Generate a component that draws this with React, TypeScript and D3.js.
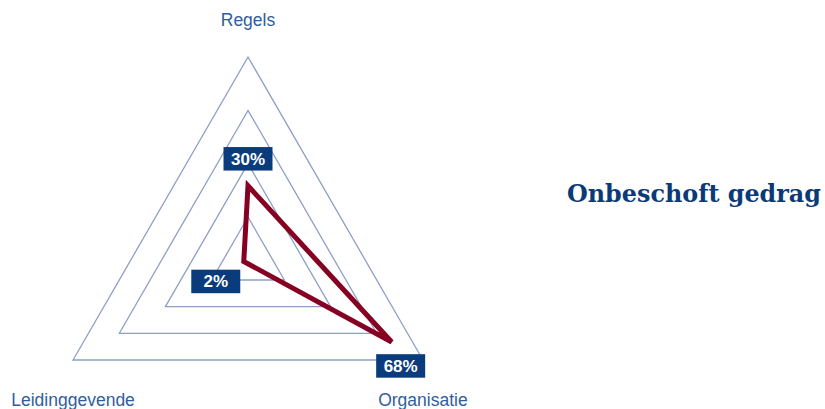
import React from 'react';
import * as d3 from 'd3';

// ---- data ----
const axes = ['Regels', 'Organisatie', 'Leidinggevende'];
const values = [30, 68, 2];
const valueLabels = ['30%', '68%', '2%'];
const gridLevels = [17.2, 39.1, 60.9, 82.8];
const maxValue = 82.8;
const title = 'Onbeschoft gedrag';

// ---- layout (not data) ----
const W = 825;
const H = 409;
const CX = 248;
const CY = 259;
const RADIUS = 202;
const labelOffsets: [number, number][] = [
  [0, -27],
  [9, 24],
  [-28, 20],
];
const axisLabelOffsets: [number, number][] = [
  [0, -31.5],
  [0, 46],
  [0, 46],
];

const GRID = '#8d9fc9';
const RED = '#860022';
const BOX = '#0a3b7c';
const TXT = '#2f5e9e';
const TITLE = '#0c3a78';

export default function App() {
  const r = d3.scaleLinear().domain([0, maxValue]).range([0, RADIUS]);
  const ang = (i: number) => (i * 2 * Math.PI) / axes.length;
  const pt = (i: number, v: number): [number, number] => [
    CX + Math.sin(ang(i)) * r(v),
    CY - Math.cos(ang(i)) * r(v),
  ];

  const radial = d3
    .lineRadial<number>()
    .angle((_, i) => ang(i))
    .radius((d) => r(d))
    .curve(d3.curveLinearClosed);

  return (
    <div style={{ position: 'absolute', left: 0, top: 0 }}>
      <svg width={W} height={H} style={{ display: 'block' }}>
        <rect width={W} height={H} fill="#fff" />
        <g transform={`translate(${CX},${CY})`}>
          {gridLevels.map((lv, k) => (
            <path
              key={k}
              d={radial(axes.map(() => lv)) || ''}
              fill="none"
              stroke={GRID}
              strokeWidth={1.3}
            />
          ))}
          <path
            d={radial(values) || ''}
            fill="none"
            stroke={RED}
            strokeWidth={5}
            strokeLinejoin="miter"
          />
        </g>
        {values.map((v, i) => {
          const [x, y] = pt(i, v);
          const bx = x + labelOffsets[i][0];
          const by = y + labelOffsets[i][1];
          return (
            <g key={i}>
              <rect x={bx - 24.5} y={by - 11.75} width={49} height={23.5} fill={BOX} />
              <text
                x={bx}
                y={by + 6}
                textAnchor="middle"
                fill="#fff"
                fontFamily="'Liberation Sans', Arial, sans-serif"
                fontWeight="bold"
                fontSize={17}
              >
                {valueLabels[i]}
              </text>
            </g>
          );
        })}
        {axes.map((a, i) => {
          const [x, y] = pt(i, maxValue);
          return (
            <text
              key={a}
              x={x + axisLabelOffsets[i][0]}
              y={y + axisLabelOffsets[i][1]}
              textAnchor="middle"
              fill={TXT}
              fontFamily="'Liberation Sans', Arial, sans-serif"
              fontSize={17.5}
            >
              {a}
            </text>
          );
        })}
        <text
          x={567}
          y={201.5}
          fill={TITLE}
          fontFamily="'DejaVu Serif', serif"
          fontWeight="bold"
          fontSize={23.5}
          textLength={254}
          lengthAdjust="spacingAndGlyphs"
        >
          {title}
        </text>
      </svg>
    </div>
  );
}
